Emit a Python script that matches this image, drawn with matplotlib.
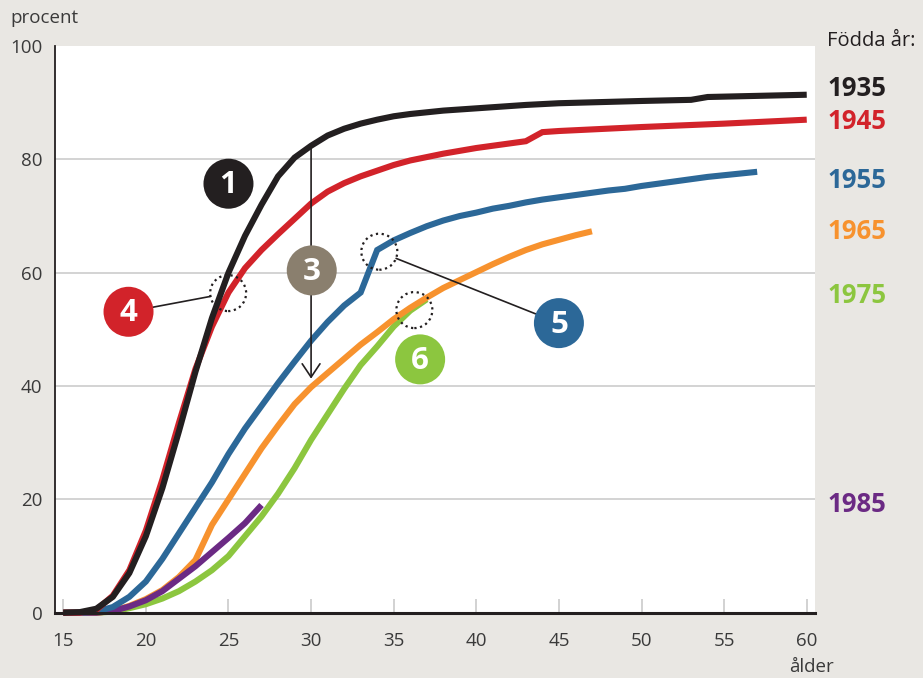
import matplotlib
matplotlib.use("Agg")
import matplotlib.pyplot as plt
from matplotlib.patches import Circle
from matplotlib.transforms import ScaledTranslation

plt.rcParams['font.family'] = ['Open Sans', 'DejaVu Sans']

# --- data (age -> percent) ---
ages_1935 = [15, 16, 17, 18, 19, 20, 21, 22, 23, 24, 25, 26, 27, 28, 29, 30, 31, 32, 33, 34, 35,
             36, 37, 38, 40, 43, 45, 50, 53, 54, 57, 60]
vals_1935 = [0, 0.1, 0.7, 2.8, 7, 13.5, 22, 32, 42.5, 52, 60, 66.5, 72, 77, 80.3, 82.4, 84.2, 85.4,
             86.3, 87, 87.6, 88, 88.3, 88.6, 89, 89.6, 89.9, 90.3, 90.5, 91.0, 91.2, 91.4]

ages_1945 = list(range(15, 45)) + [45, 50, 55, 60]
vals_1945 = [0, 0, 0.5, 3, 7.5, 14.5, 23.5, 33.5, 43, 50.5, 56.5, 60.8, 64, 66.8, 69.5, 72.2,
             74.3, 75.8, 77, 78, 79, 79.8, 80.4, 81, 81.5, 82, 82.4, 82.8, 83.2, 84.8,
             85, 85.7, 86.3, 87]

ages_1955 = list(range(15, 58))
vals_1955 = [0, 0, 0.2, 1, 2.8, 5.5, 9.5, 14, 18.5, 23, 28, 32.5, 36.5, 40.5, 44.3, 48, 51.3,
             54.2, 56.5, 64, 65.7, 67, 68.2, 69.2, 70, 70.6, 71.3, 71.8, 72.4, 72.9, 73.3,
             73.7, 74.1, 74.5, 74.8, 75.3, 75.7, 76.1, 76.5, 76.9, 77.2, 77.5, 77.8]

ages_1965 = list(range(15, 48))
vals_1965 = [0, 0, 0, 0.3, 1.2, 2.4, 4, 6.3, 9.3, 15.5, 20, 24.5, 29, 33, 36.8, 39.8, 42.3,
             44.8, 47.3, 49.5, 51.8, 53.8, 55.6, 57.3, 58.7, 60.1, 61.5, 62.8, 64, 65, 65.8,
             66.6, 67.3]

ages_1975 = list(range(15, 38))
vals_1975 = [0, 0, 0, 0.2, 0.8, 1.5, 2.5, 3.8, 5.5, 7.5, 10, 13.5, 17, 21, 25.5, 30.5, 35,
             39.5, 43.7, 47, 50.5, 53.3, 55.3]

ages_1985 = list(range(15, 28))
vals_1985 = [0, 0, 0, 0.3, 1.1, 2.2, 3.8, 6, 8.2, 10.7, 13.2, 15.8, 19]

cohorts = ['1935', '1945', '1955', '1965', '1975', '1985']
colors = {'1935': '#231f20', '1945': '#d2232a', '1955': '#2c6898',
          '1965': '#f7922e', '1975': '#8cc63f', '1985': '#6b2a84'}
label_y = {'1935': 92.5, '1945': 86.6, '1955': 76.3, '1965': 67.3, '1975': 55.9, '1985': 19.1}

series = {'1935': (ages_1935, vals_1935), '1945': (ages_1945, vals_1945),
          '1955': (ages_1955, vals_1955), '1965': (ages_1965, vals_1965),
          '1975': (ages_1975, vals_1975), '1985': (ages_1985, vals_1985)}

bg = '#e9e7e3'
txt = '#3a3a3a'

fig = plt.figure(figsize=(9.23, 6.78), dpi=100, facecolor=bg)
ax = fig.add_axes([55 / 923, 1 - 612.7 / 678, 760 / 923, 566.7 / 678])
ax.set_facecolor('white')
ax.set_xlim(14.5, 60.5)
ax.set_ylim(0, 100)

# grid
for g in [20, 40, 60, 80]:
    ax.axhline(g, color='#d0d0d0', lw=1.3, zorder=0)

# draw lines (order matters for overlaps)
for c in ['1975', '1965', '1985', '1955', '1945', '1935']:
    a, v = series[c]
    ax.plot(a, v, color=colors[c], lw=4.4, solid_joinstyle='miter',
            solid_capstyle='butt', zorder=3, clip_on=False)

# axes styling
for s in ['top', 'right']:
    ax.spines[s].set_visible(False)
ax.spines['left'].set_color('#231f20')
ax.spines['left'].set_linewidth(1.3)
ax.spines['bottom'].set_color('#231f20')
ax.spines['bottom'].set_linewidth(2.2)
ax.spines['bottom'].set_zorder(5)

ax.set_xticks(range(15, 61, 5))
ax.set_yticks([0, 20, 40, 60, 80, 100])
ax.tick_params(axis='x', direction='in', length=10, width=1.3, color='#cfcfcf',
               labelsize=13.5, labelcolor=txt, pad=14)
ax.tick_params(axis='y', length=0, labelsize=13.5, labelcolor=txt, pad=9)

fig.text(10 / 923, 1 - 18 / 678, 'procent', fontsize=13.5, color=txt, va='center', ha='left')
fig.text(811 / 923, 1 - 667 / 678, 'ålder', fontsize=13.5, color=txt, va='center', ha='center')

# right-side cohort labels
ax.text(61.25, 100.9, 'Födda år:', fontsize=14.5, color='#231f20', va='center', ha='left',
        clip_on=False)
for c in cohorts:
    ax.text(61.25, label_y[c], c, fontsize=18.5, fontweight='bold', color=colors[c],
            va='center', ha='left', clip_on=False)


def px_circle(x, y, r_px, **kw):
    tr = fig.dpi_scale_trans + ScaledTranslation(x, y, ax.transData)
    circ = Circle((0, 0), r_px / 100, transform=tr, clip_on=False, **kw)
    ax.add_patch(circ)


# dotted highlight circles
for (cx, cy) in [(24.98, 56.4), (34.13, 63.7), (36.25, 53.4)]:
    px_circle(cx, cy, 18, fill=False, ec='#231f20', lw=1.6, ls=(0, (1, 1.6)), zorder=6)

# leader lines
ax.annotate('', xy=(24.98, 56.4), xytext=(18.95, 53.1),
            arrowprops=dict(arrowstyle='-', color='#231f20', lw=1.2, shrinkA=18, shrinkB=13),
            zorder=4)
ax.annotate('', xy=(34.13, 63.7), xytext=(45.0, 51.1),
            arrowprops=dict(arrowstyle='-', color='#231f20', lw=1.2, shrinkA=18, shrinkB=13),
            zorder=4)

# arrow 3
ax.annotate('', xy=(30, 41.3), xytext=(30, 82.3),
            arrowprops=dict(arrowstyle='->,head_length=0.6,head_width=0.4', color='#231f20',
                            lw=1.2, shrinkA=0, shrinkB=0, mutation_scale=16),
            zorder=4)

# numbered markers
markers = [('1', 25.0, 75.7, '#231f20'), ('3', 30.04, 60.4, '#8a7f6e'),
           ('4', 18.95, 53.1, '#d2232a'), ('5', 45.0, 51.1, '#2c6898'),
           ('6', 36.6, 44.7, '#8cc63f')]
for lab, mx, my, col in markers:
    px_circle(mx, my, 25, fc=col, ec='none', zorder=7)
    ax.text(mx, my - 0.3, lab, fontsize=22.5, fontweight='bold', color='white',
            ha='center', va='center', zorder=8)

fig.savefig('out.png', dpi=100, facecolor=bg)
